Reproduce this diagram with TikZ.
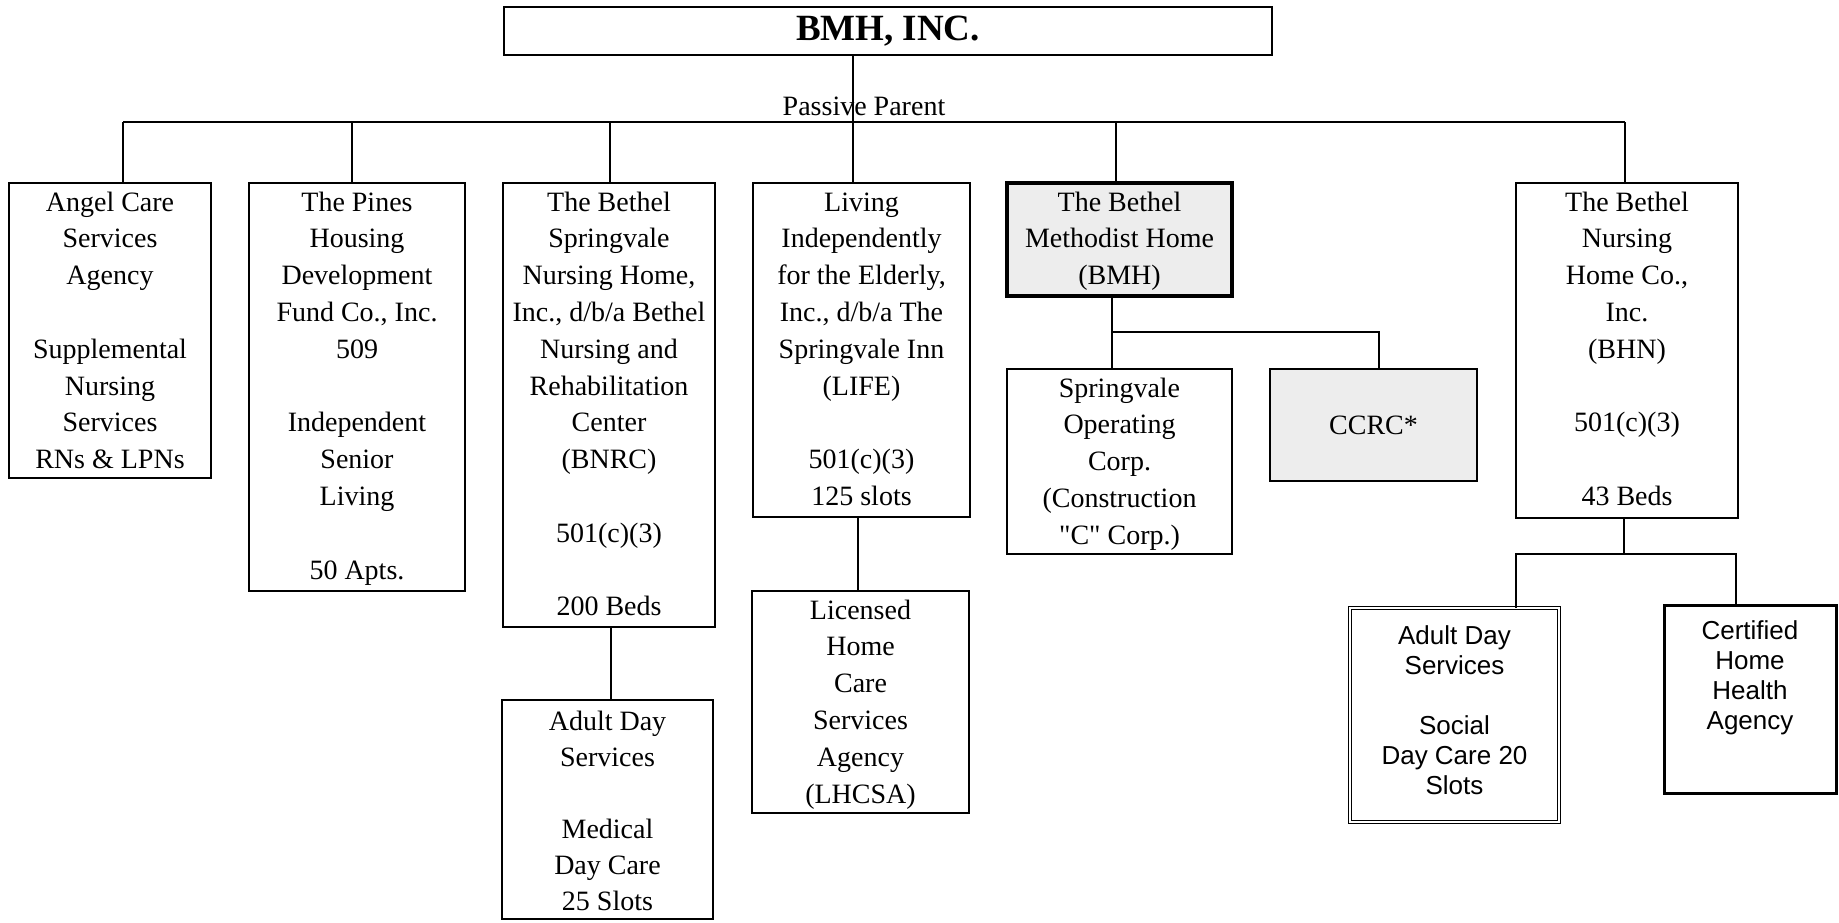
\documentclass[tikz,border=0pt]{standalone}
\usepackage{fontspec}
\setmainfont{Liberation Serif}
\newfontfamily\arialf{Liberation Sans}
\newfontfamily\qfont{Liberation Serif}[Ligatures=TeXOff]
\newcommand{\sq}{{\qfont"}}
\newcommand{\tbox}[3]{\parbox[c][#2pt][t]{#1pt}{\centering\fontsize{28}{36.8}\selectfont\rule{0pt}{28pt}#3}}
\newcommand{\abox}[4]{\parbox[c][#2pt][t]{#1pt}{\centering\arialf\fontsize{26}{30}\selectfont\rule{0pt}{#3pt}#4}}
\newcommand{\gap}{\\[36.8pt]}
\tikzset{
  orgbox/.style={draw, line width=2pt, inner sep=0pt, outer sep=0pt, anchor=north west},
  heavybox/.style={orgbox, line width=4pt},
  shaded/.style={fill=black!7},
  dblbox/.style={orgbox, double, line width=1.3pt, double distance=1.8pt},
  link/.style={line width=1.8pt, line join=miter},
}
\begin{document}
\begin{tikzpicture}[x=1pt, y=-1pt]
\useasboundingbox (0,0) rectangle (1839,922);

% top
\node[orgbox, line width=2.4pt] (bmhinc) at (504,7)
  {\parbox[c][48pt][c]{768pt}{\centering\fontsize{37}{40}\selectfont\bfseries BMH, INC.}};
\node[anchor=base, inner sep=0pt, font=\fontsize{28}{30}\selectfont] (pp) at (864,115) {Passive Parent};

% first level
\node[orgbox] (angel) at (9,183) {\tbox{202}{295}{Angel Care\\Services\\Agency\gap Supplemental\\Nursing\\Services\\RNs \& LPNs}};
\node[orgbox] (pines) at (249,183) {\tbox{216}{408}{The Pines\\Housing\\Development\\Fund Co., Inc.\\509\gap Independent\\Senior\\Living\gap 50 Apts.}};
\node[orgbox] (bsnh) at (503,183) {\tbox{212}{444}{The Bethel\\Springvale\\Nursing Home,\\Inc., d/b/a Bethel\\Nursing and\\Rehabilitation\\Center\\(BNRC)\gap 501(c)(3)\gap 200 Beds}};
\node[orgbox] (life) at (753,183) {\tbox{217}{334}{Living\\Independently\\for the Elderly,\\Inc., d/b/a The\\Springvale Inn\\(LIFE)\gap 501(c)(3)\\125 slots}};
\node[heavybox, shaded] (bmh) at (1007,183) {\tbox{225}{113}{The Bethel\\Methodist Home\\(BMH)}};
\node[orgbox] (bhn) at (1516,183) {\tbox{222}{335}{The Bethel\\Nursing\\Home Co.,\\Inc.\\(BHN)\gap 501(c)(3)\gap 43 Beds}};

% second level
\node[orgbox] (ads1) at (502,700) {\parbox[c][219pt][t]{211pt}{\centering\fontsize{28}{36}\selectfont\rule{0pt}{30pt}Adult Day\\Services\\[36pt]Medical\\Day Care\\25 Slots}};
\node[orgbox] (lhcsa) at (752,591) {\tbox{217}{222}{Licensed\\Home\\Care\\Services\\Agency\\(LHCSA)}};
\node[orgbox] (sop) at (1007,369) {\tbox{225}{185}{Springvale\\Operating\\Corp.\\(Construction\\\sq C\sq{} Corp.)}};
\node[orgbox, shaded] (ccrc) at (1270,369) {\parbox[c][112pt][c]{207pt}{\centering\fontsize{28}{30}\selectfont CCRC*}};
\node[dblbox] (ads2) at (1350,608) {\abox{209}{214}{36}{Adult Day\\Services\\[30pt]Social\\Day Care 20\\Slots}};
\node[orgbox, line width=3pt] (chha) at (1664,605) {\abox{172}{188}{34}{Certified\\Home\\Health\\Agency}};

% connectors from BMH, INC.
\coordinate (busL) at (123,122);
\coordinate (busR) at (1625,122);
\coordinate (dP) at (352,122);
\coordinate (dB) at (610,122);
\coordinate (dL) at (853,122);
\coordinate (dM) at (1116,122);
\draw[link] (busL) -- (busR);
\draw[link] (bmhinc.south -| dL) -- (dL |- life.north);
\draw[link] (busL) -- (busL |- angel.north);
\draw[link] (dP) -- (dP |- pines.north);
\draw[link] (dB) -- (dB |- bsnh.north);
\draw[link] (dM) -- (dM |- bmh.north);
\draw[link] (busR) -- (busR |- bhn.north);

% BNRC and LIFE children
\coordinate (c1) at (611,627);
\draw[link] (c1) -- (c1 |- ads1.north);
\coordinate (c2) at (858,517);
\draw[link] (c2) -- (c2 |- lhcsa.north);

% BMH children
\coordinate (j1) at (1112,332);
\coordinate (j2) at (1379,332);
\draw[link] (bmh.south -| j1) -- (j1 |- sop.north);
\draw[link] (j1) -- (j2) -- (j2 |- ccrc.north);

% BHN children
\coordinate (k0) at (1624,554);
\coordinate (k1) at (1516,554);
\coordinate (k2) at (1736,554);
\draw[link] (bhn.south -| k0) -- (k0);
\draw[link] (k1 |- ads2.north) -- (k1) -- (k2) -- (k2 |- chha.north);
\end{tikzpicture}
\end{document}
